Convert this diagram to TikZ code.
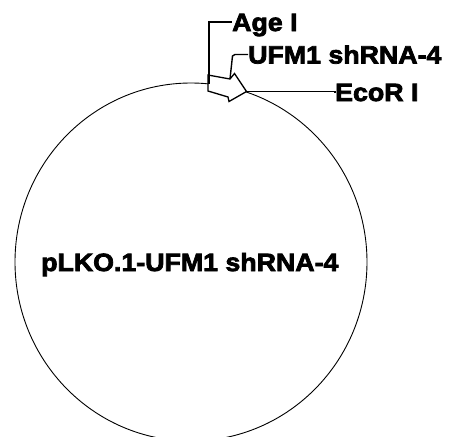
\documentclass[tikz,border=0pt]{standalone}
\usepackage{fontspec}
\setmainfont{Liberation Sans}[FakeStretch=1.07,BoldFeatures={FakeBold=3}]
\begin{document}
\begin{tikzpicture}[x=1pt,y=-1pt,
  lbl/.style={anchor=west,inner sep=0pt,font=\fontsize{25}{25}\selectfont\bfseries,text height=18pt,text depth=0pt},
  leader/.style={line width=1.4pt,line join=miter},
  plasmid/.style={line width=0.9pt},
  feat/.style={line width=1.3pt,fill=white,line join=miter}]
\useasboundingbox (0,0) rectangle (451,437);
% backbone
\draw[plasmid] (191,262) ellipse [x radius=176, y radius=179];
\node[lbl] (main) at (41,262) {pLKO.1-UFM1 shRNA-4};
% shRNA feature arrow
\coordinate (lt) at (208,75);
\coordinate (rt) at (230,79);
\coordinate (ht) at (234.5,73.5);
\coordinate (tip) at (246.5,91.5);
\coordinate (hb) at (229,101.5);
\coordinate (rb) at (228,97);
\coordinate (lb) at (208,91);
\draw[feat] (lt) -- (rt) -- (ht) -- (tip) -- (hb) -- (rb) -- (lb) -- cycle;
% labels
\node[lbl] (age) at (232,22) {Age I};
\node[lbl] (ufm) at (248,54.5) {UFM1 shRNA-4};
\node[lbl] (eco) at (335,92) {EcoR I};
\coordinate (agefoot) at (209,84);
\draw[leader] (agefoot) -- (209,22) -- (age.west);
\draw[leader] (rt) -- (232.5,56) -- (235,54.5) -- (ufm.west);
\draw[leader] (tip) -- (eco.west |- tip) -- (eco.west);
\end{tikzpicture}
\end{document}
